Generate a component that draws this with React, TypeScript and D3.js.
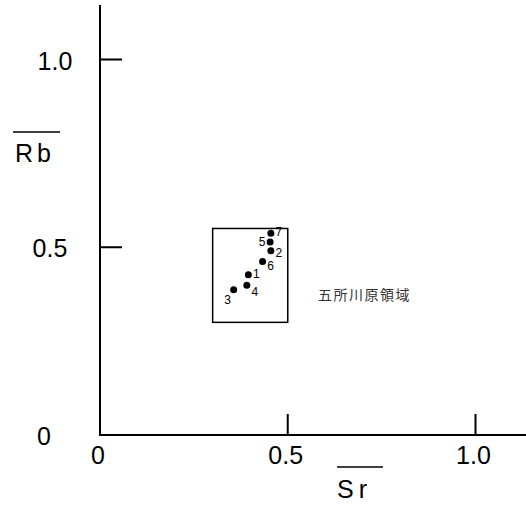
import React from 'react';
import * as d3 from 'd3';

// sample points (Sr, Rb normalised)
const ids = ['1', '2', '3', '4', '5', '6', '7'];
const srValues = [0.395, 0.455, 0.356, 0.391, 0.453, 0.433, 0.455];
const rbValues = [0.427, 0.491, 0.387, 0.399, 0.514, 0.462, 0.537];
// label offsets next to each point [dx, dy]
const labelOffsets: [number, number][] = [
  [8, -1], [8, 2], [-6, 10], [8, 7], [-8, 0], [8, 4], [8, -1],
];

const xTicks = [0, 0.5, 1.0];
const xTickLabels = ['0', '0.5', '1.0'];
const yTicks = [0, 0.5, 1.0];
const yTickLabels = ['0', '0.5', '1.0'];

// region box of 五所川原領域
const regionX = [0.3, 0.5];
const regionY = [0.3, 0.55];
const regionName = '五所川原領域';

const W = 526;
const H = 506;

export default function App() {
  const x = d3.scaleLinear().domain([0, 1]).range([100, 475.5]);
  const y = d3.scaleLinear().domain([0, 1]).range([435, 59.5]);
  const font = '"Liberation Sans", Arial, sans-serif';

  return (
    <svg width={W} height={H} style={{ display: 'block', position: 'absolute', left: 0, top: 0 }}>
      <rect width={W} height={H} fill="#fff" />
      {/* axes */}
      <line x1={x(0)} x2={x(0)} y1={5} y2={y(0) + 1} stroke="#000" strokeWidth={2} />
      <line x1={x(0) - 1} x2={W} y1={y(0)} y2={y(0)} stroke="#000" strokeWidth={2} />

      {/* x ticks */}
      {xTicks.map((t, i) => (
        <g key={'xt' + i}>
          {t > 0 && <line x1={x(t)} x2={x(t)} y1={y(0)} y2={y(0) - 21} stroke="#000" strokeWidth={2} />}
          <text x={x(t) - 2} y={464} fontFamily={font} fontSize={25} textAnchor="middle" fill="#000">
            {xTickLabels[i]}
          </text>
        </g>
      ))}

      {/* y ticks */}
      {yTicks.map((t, i) => (
        <g key={'yt' + i}>
          {t > 0 && <line x1={x(0)} x2={x(0) + 22} y1={y(t)} y2={y(t)} stroke="#000" strokeWidth={2} />}
          <text x={[44, 50, 55][i]} y={y(t) + 1} fontFamily={font} fontSize={25} textAnchor="middle"
            dominantBaseline="central" fill="#000">
            {yTickLabels[i]}
          </text>
        </g>
      ))}

      {/* axis titles with overline */}
      <line x1={13} x2={60} y1={132} y2={132} stroke="#000" strokeWidth={1.5} />
      <text x={15} y={162} fontFamily={font} fontSize={25} letterSpacing={4} fill="#000">Rb</text>
      <line x1={337} x2={383} y1={467} y2={467} stroke="#000" strokeWidth={1.5} />
      <text x={337} y={498} fontFamily={font} fontSize={25} letterSpacing={5} fill="#000">Sr</text>

      {/* region box */}
      <rect x={x(regionX[0])} y={y(regionY[1])} width={x(regionX[1]) - x(regionX[0])}
        height={y(regionY[0]) - y(regionY[1])} fill="none" stroke="#000" strokeWidth={1.5} />

      {/* points */}
      {ids.map((id, i) => (
        <g key={id}>
          <circle cx={x(srValues[i])} cy={y(rbValues[i])} r={3.5} fill="#000" />
          <text x={x(srValues[i]) + labelOffsets[i][0]} y={y(rbValues[i]) + labelOffsets[i][1]}
            fontFamily={font} fontSize={12} textAnchor="middle" dominantBaseline="central" fill="#000">
            {id}
          </text>
        </g>
      ))}

      <text x={318} y={294} fontFamily='"Noto Sans CJK JP", sans-serif' fontSize={14} fill="#333"
        dominantBaseline="central" letterSpacing={1.5}>
        {regionName}
      </text>
    </svg>
  );
}
